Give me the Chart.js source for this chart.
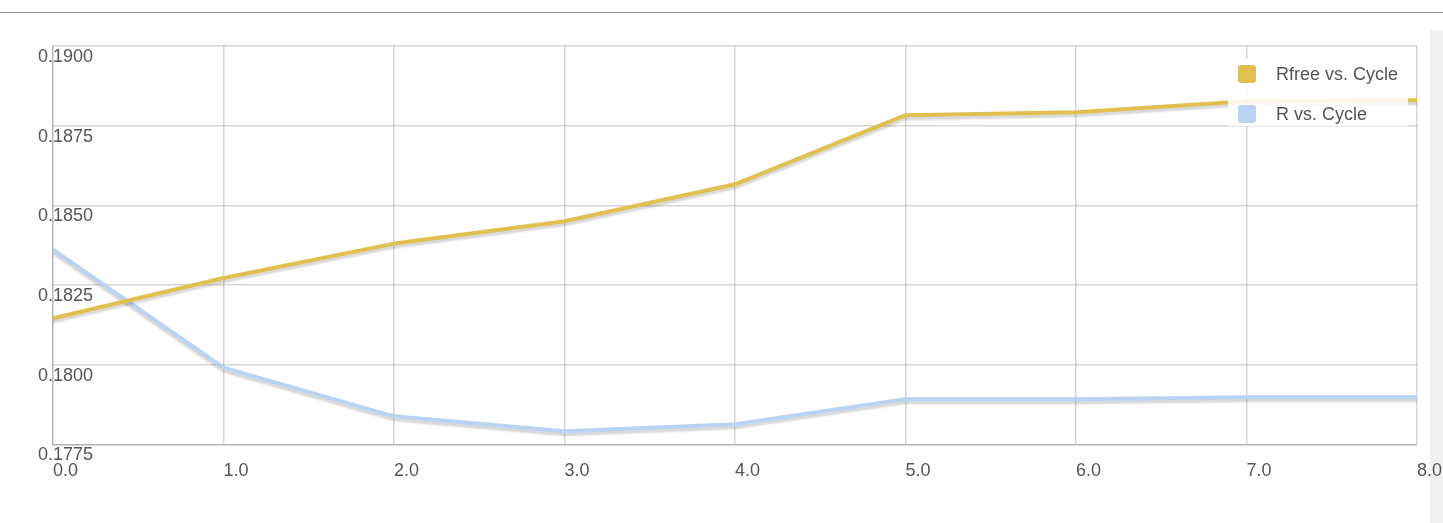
<!DOCTYPE html>
<html>
<head>
<meta charset="utf-8">
<script src="https://cdn.jsdelivr.net/npm/chart.js@4/dist/chart.umd.min.js"></script>
<style>
  html, body { margin: 0; padding: 0; background: #fff; }
  #wrap { position: relative; width: 1443px; height: 523px; overflow: hidden; }
  #topline { position: absolute; left: 0; top: 12px; width: 1443px; height: 1px; background: #8a8a8a; }
  #sidebar { position: absolute; left: 1430px; top: 30px; width: 13px; height: 493px; background: #f1f1f1; }
  #box { position: absolute; left: 0; top: 0; width: 1443px; height: 523px; }
  #legend {
    position: absolute; left: 1228px; top: 58px; width: 180px; height: 68px;
    background: rgba(255, 255, 255, 0.85);
    font-family: "Liberation Sans", Arial, sans-serif; font-size: 18px; color: #555;
  }
  .item { position: absolute; left: 10px; height: 20px; line-height: 20px; white-space: nowrap; }
  .sw { position: absolute; left: 0; top: 1px; width: 18px; height: 18px; border-radius: 3px; }
  .txt { position: absolute; left: 38px; top: 0; }
</style>
</head>
<body>
<div id="wrap">
  <div id="topline"></div>
  <div id="sidebar"></div>
  <div id="box"><canvas id="myChart"></canvas></div>
  <div id="legend"></div>
</div>
<script>
// cycles on the x axis
var cycles = [0, 1, 2, 3, 4, 5, 6, 7, 8];
var rfree = [0.18146, 0.18272, 0.18380, 0.18450, 0.18566, 0.18783, 0.18792, 0.18827, 0.18830];
var rwork = [0.18361, 0.17991, 0.17838, 0.17791, 0.17813, 0.17892, 0.17892, 0.17898, 0.17898];
var seriesNames = ["Rfree vs. Cycle", "R vs. Cycle"];
var seriesColors = ["#e1c052", "#b9d3f2"];

function toPoints(xs, ys) {
  return xs.map(function (x, i) { return { x: x, y: ys[i] }; });
}

var data = {
  datasets: [
    {
      label: seriesNames[0],
      data: toPoints(cycles, rfree),
      borderColor: seriesColors[0],
      backgroundColor: seriesColors[0],
    },
    {
      label: seriesNames[1],
      data: toPoints(cycles, rwork),
      borderColor: seriesColors[1],
      backgroundColor: seriesColors[1],
    },
  ],
};

var gridColor = "rgba(0, 0, 0, 0.16)";
var tickFont = { family: "'Liberation Sans', Arial, sans-serif", size: 18 };

var options = {
  responsive: true,
  maintainAspectRatio: false,
  animation: false,
  layout: { padding: { left: 53, top: 46, right: 26, bottom: 25 } },
  elements: {
    line: { borderWidth: 4, tension: 0, borderJoinStyle: "round", borderCapStyle: "round" },
    point: { radius: 0, hoverRadius: 0 },
  },
  plugins: {
    legend: { display: false },
    tooltip: { enabled: false },
  },
  scales: {
    x: {
      type: "linear",
      min: 0,
      max: 8,
      grid: { color: gridColor, lineWidth: 1.5, drawTicks: false },
      border: { color: gridColor, width: 1.5 },
      afterFit: function (s) { s.paddingRight = 0; s.paddingLeft = 0; },
      ticks: {
        stepSize: 1,
        align: "start",
        padding: 16,
        color: "#555",
        font: tickFont,
        maxRotation: 0,
        callback: function (v) { return Number(v).toFixed(1); },
      },
    },
    y: {
      min: 0.1775,
      max: 0.19,
      grid: { color: gridColor, lineWidth: 1.5, drawTicks: false },
      border: { color: gridColor, width: 1.5 },
      afterFit: function (s) { s.width = 0; },
      ticks: {
        stepSize: 0.0025,
        mirror: true,
        padding: -15,
        labelOffset: 11,
        color: "#555",
        font: tickFont,
        callback: function (v) { return Number(v).toFixed(4); },
      },
    },
  },
};

// soft shadow under each line
var lineShadow = {
  id: "lineShadow",
  beforeDatasetDraw: function (chart) {
    var c = chart.ctx;
    c.save();
    c.shadowColor = "rgba(0, 0, 0, 0.16)";
    c.shadowOffsetY = 3;
    c.shadowBlur = 2;
  },
  afterDatasetDraw: function (chart) {
    chart.ctx.restore();
  },
};

const ctx = document.getElementById("myChart").getContext("2d");
const myChart = new Chart(ctx, {
  type: "line",
  data: data,
  options: options,
  plugins: [lineShadow],
});

// legend inside the plot, top right
var legend = document.getElementById("legend");
data.datasets.forEach(function (ds, i) {
  var item = document.createElement("div");
  item.className = "item";
  item.style.top = (6 + i * 40) + "px";
  item.innerHTML = '<span class="sw" style="background:' + ds.borderColor + '"></span><span class="txt">' + ds.label + "</span>";
  legend.appendChild(item);
});
</script>
</body>
</html>
